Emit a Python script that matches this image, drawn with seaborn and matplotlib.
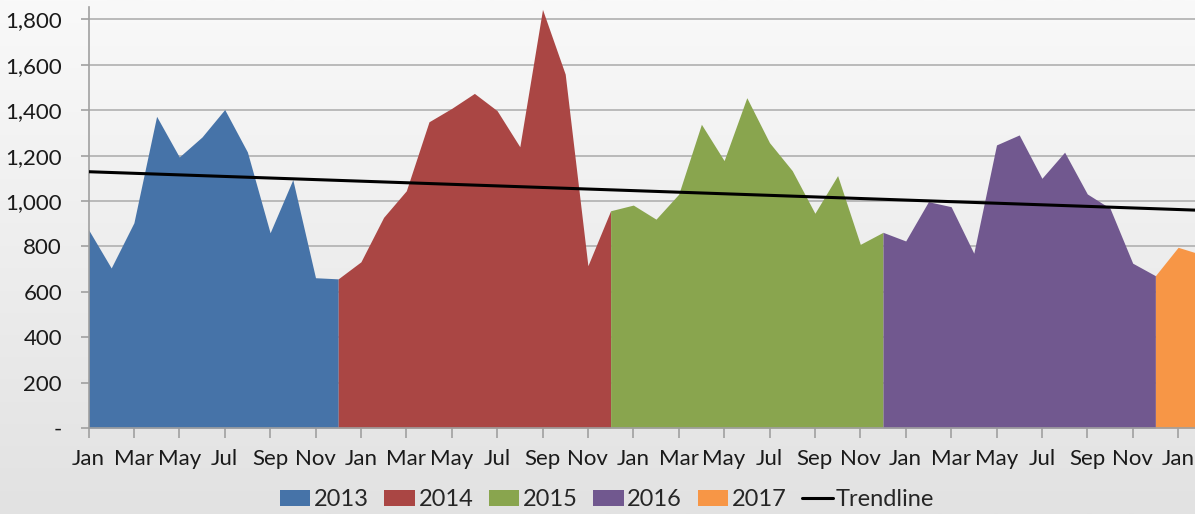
import numpy as np
import matplotlib
matplotlib.use("Agg")
import matplotlib.pyplot as plt
import seaborn as sns
from matplotlib.patches import Patch
from matplotlib.lines import Line2D

# monthly values, Jan 2013 .. Feb 2017
years = ["2013", "2014", "2015", "2016", "2017"]
values_2013 = [874, 705, 904, 1373, 1194, 1282, 1403, 1216, 860, 1094, 662, 657]
values_2014 = [732, 928, 1045, 1349, 1408, 1474, 1398, 1239, 1844, 1559, 715, 957]
values_2015 = [982, 920, 1030, 1338, 1178, 1455, 1257, 1134, 946, 1112, 809, 862]
values_2016 = [824, 997, 975, 770, 1247, 1291, 1100, 1215, 1031, 968, 726, 671]
values_2017 = [796, 765]
month_labels = ["Jan", "Mar", "May", "Jul", "Sep", "Nov"]
# trendline as shown: value at Jan 2013 and at Feb 2017
trend_values = [1129, 959]
colors = ["#4673A8", "#AA4644", "#89A54E", "#71588F", "#F79646"]

series = [values_2013, values_2014, values_2015, values_2016, values_2017]
all_values = np.concatenate(series)
idx = np.arange(len(all_values))

sns.set_theme(style="white")
plt.rcParams["font.family"] = ["Lato", "DejaVu Sans"]

fig = plt.figure(figsize=(11.95, 5.14), dpi=100)

# light gray gradient background
bg = fig.add_axes([0, 0, 1, 1], zorder=-10)
grad = np.linspace(0, 1, 256).reshape(-1, 1)
bg.imshow(grad, aspect="auto", cmap=matplotlib.colors.LinearSegmentedColormap.from_list(
    "bg", ["#f9f9f9", "#e2e2e2"]), extent=[0, 1, 0, 1])
bg.axis("off")

ax = fig.add_axes([88.5 / 1195, 1 - 428 / 514, 1 - 88.5 / 1195, (428 - 7) / 514])
ax.set_facecolor("none")

# each year's area starts at the previous December so areas join up
start = 0
for i, vals in enumerate(series):
    lo = max(start - 1, 0)
    hi = start + len(vals)
    ax.fill_between(idx[lo:hi], all_values[lo:hi], 0, color=colors[i], linewidth=0, zorder=2)
    start = hi

# linear trendline
sns.lineplot(x=[idx[0], idx[-1]], y=trend_values, color="black", linewidth=2.2, ax=ax, zorder=3)

ax.set_xlim(0, (1195 - 88.5) / 22.7)
ax.set_ylim(0, (428 - 7) / 0.2270)
ax.set_yticks(np.arange(0, 1801, 200))
ax.set_yticklabels(["-"] + [f"{v:,}" for v in range(200, 1801, 200)])
xticks = np.arange(0, len(all_values), 2)
ax.set_xticks(xticks)
ax.set_xticklabels([month_labels[(t % 12) // 2] for t in xticks])
ax.yaxis.grid(True, color="#b5b5b5", linewidth=1.3, zorder=0)
ax.set_axisbelow(True)

for s in ["top", "right"]:
    ax.spines[s].set_visible(False)
for s in ["left", "bottom"]:
    ax.spines[s].set_color("#a0a0a0")
    ax.spines[s].set_linewidth(1.2)

ax.tick_params(axis="x", which="major", direction="out", length=7, width=1.2,
               color="#a0a0a0", pad=8, labelsize=16, labelcolor="#1a1a1a", bottom=True)
ax.tick_params(axis="y", which="major", direction="out", length=6, width=1.2,
               color="#a0a0a0", pad=13, labelsize=16, labelcolor="#1a1a1a", left=True)

handles = [Patch(facecolor=c, edgecolor="none") for c in colors]
handles.append(Line2D([0], [0], color="black", linewidth=2.2))
fig.legend(handles, years + ["Trendline"], loc="center", bbox_to_anchor=(0.508, 0.028),
           ncol=6, frameon=False, fontsize=17, handlelength=1.3, handleheight=0.7,
           handletextpad=0.15, columnspacing=0.65)

fig.savefig("out.png", dpi=100)
